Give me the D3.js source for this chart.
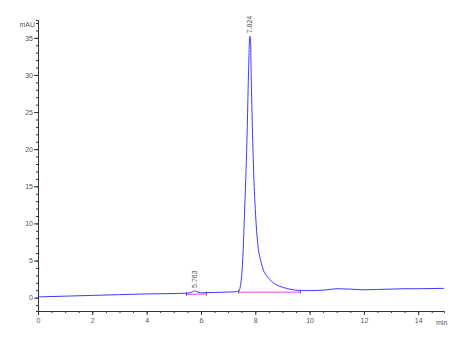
<!DOCTYPE html>
<html><head><meta charset="utf-8">
<script src="https://cdn.jsdelivr.net/npm/d3@7"></script>
<style>body{margin:0;background:#fff}svg{display:block}text{font-family:"Liberation Sans",Arial,sans-serif}</style>
</head><body><svg id="c" width="466" height="342"></svg>
<script>
const times = [0,1,2,3,4,5,5.5,5.7,5.76,5.85,6.0,6.5,7.0,7.3,7.4,7.45,7.5,7.55,7.6,7.65,7.7,7.75,7.8,7.824,7.85,7.9,7.95,8.0,8.05,8.1,8.2,8.3,8.45,8.6,8.8,9.0,9.2,9.5,9.7,10.0,10.5,11.0,11.5,12.0,12.5,13.0,13.5,14.0,14.95];
const signal = [0.1,0.2,0.3,0.4,0.5,0.55,0.6,0.8,0.9,0.8,0.65,0.7,0.75,0.8,0.9,1.5,3,6,11,16,22,30,35.2,35,30,22,16,12,9,7,5,3.7,2.8,2.2,1.7,1.4,1.2,1.0,0.95,0.95,1.0,1.2,1.15,1.05,1.1,1.15,1.2,1.2,1.25];
const peakTimes = [5.763, 7.824];
const peakLabels = ["5.763", "7.824"];
const peakHeights = [0.9, 35.2];
const baseStart = [5.47, 7.39];
const baseStartVal = [0.5, 0.8];
const baseEnd = [6.2, 9.66];
const baseEndVal = [0.55, 0.8];
const xTickValues = [0,2,4,6,8,10,12,14];
const yTickValues = [0,5,10,15,20,25,30,35];
const xUnit = "min";
const yUnit = "mAU";

const svg = d3.select("#c");
const x = d3.scaleLinear().domain([0,14.95]).range([38,444]);
const y = d3.scaleLinear().domain([-1.8,37.4]).range([311,20]);
const axisCol = "#333", labCol = "#555";

// y axis
const ya = svg.append("g").attr("transform","translate(38,0)");
ya.call(d3.axisLeft(y).tickValues(d3.range(-1,38,1)).tickSize(2).tickFormat(""));
ya.append("g").call(d3.axisLeft(y).tickValues(yTickValues).tickSize(4).tickFormat(d3.format("d")));
ya.selectAll("path").attr("stroke",axisCol);
ya.selectAll("line").attr("stroke",axisCol);
ya.selectAll("text").attr("fill",labCol).style("font-size","7px").attr("x",-5);
ya.selectAll("g > g > .domain").remove();
svg.append("text").attr("x",35).attr("y",27).attr("text-anchor","end").attr("fill",labCol).style("font-size","7px").text(yUnit);

// x axis
const xa = svg.append("g").attr("transform","translate(0,311)");
xa.call(d3.axisBottom(x).tickValues(d3.range(0,15,0.5)).tickSize(2).tickFormat(""));
xa.append("g").call(d3.axisBottom(x).tickValues(xTickValues).tickSize(4).tickFormat(d3.format("d")));
xa.selectAll("path").attr("stroke",axisCol);
xa.selectAll("line").attr("stroke",axisCol);
xa.selectAll("text").attr("fill",labCol).style("font-size","7px").attr("y",7);
xa.selectAll("g > g > .domain").remove();
svg.append("text").attr("x",436).attr("y",325).attr("fill",labCol).style("font-size","7px").text(xUnit);

// trace
const pts = times.map((t,i)=>[t,signal[i]]);
svg.append("path").datum(pts).attr("fill","none").attr("stroke","#3b3bff").attr("stroke-width",1)
  .attr("d", d3.line().x(d=>x(d[0])).y(d=>y(d[1])).curve(d3.curveMonotoneX));

// baselines
peakTimes.forEach((p,i)=>{
  svg.append("line").attr("x1",x(baseStart[i])).attr("y1",y(baseStartVal[i])+0.5)
    .attr("x2",x(baseEnd[i])).attr("y2",y(baseEndVal[i])+0.5).attr("stroke","#ff40f0").attr("stroke-width",1);
  [[baseStart[i],baseStartVal[i]],[baseEnd[i],baseEndVal[i]]].forEach(([t,v])=>{
    svg.append("line").attr("x1",x(t)).attr("x2",x(t)).attr("y1",y(v)-2).attr("y2",y(v)+2).attr("stroke","#444").attr("stroke-width",0.8);
  });
});

// peak labels
peakTimes.forEach((p,i)=>{
  const px = x(p)+2, py = y(peakHeights[i]) - 3;
  svg.append("text").attr("transform",`translate(${px},${py}) rotate(-90)`)
    .attr("fill","#555").style("font-size","7px").text(peakLabels[i]);
});
</script></body></html>
